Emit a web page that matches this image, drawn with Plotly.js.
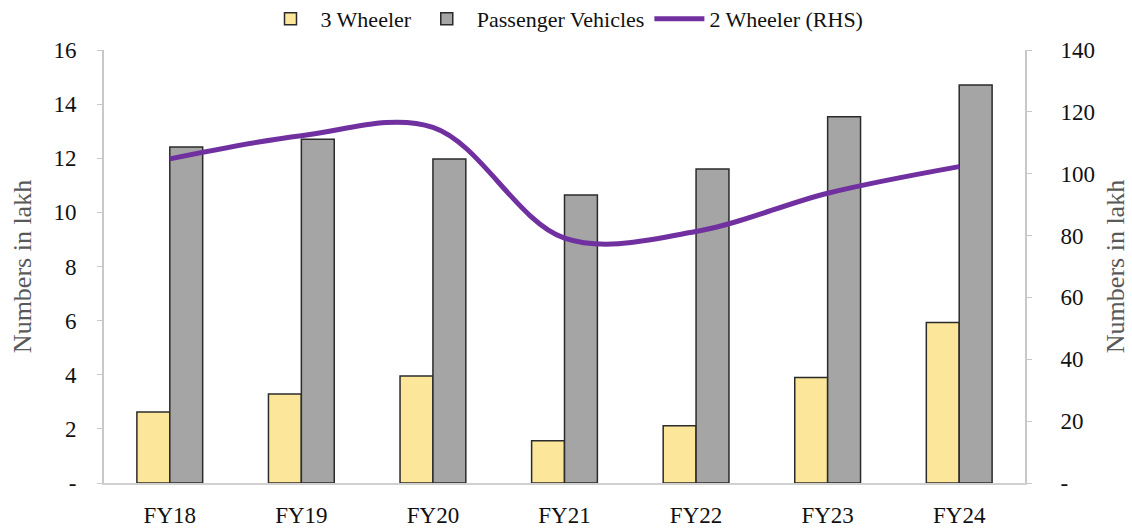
<!DOCTYPE html>
<html>
<head>
<meta charset="utf-8">
<script src="https://cdn.plot.ly/plotly-3.0.1.min.js"></script>
<style>html,body{margin:0;padding:0;background:#fff;}#chart{width:1132px;height:532px;}</style>
</head>
<body>
<div id="chart"></div>
<script>
const categories = ["FY18","FY19","FY20","FY21","FY22","FY23","FY24"];
const threeWheeler = [2.62, 3.29, 3.95, 1.56, 2.12, 3.90, 5.93];
const passengerVehicles = [12.42, 12.70, 11.97, 10.64, 11.60, 13.53, 14.71];
const twoWheeler = [104.8, 112.3, 115.0, 79.2, 81.3, 93.7, 102.3];
const leftTickVals = [0,2,4,6,8,10,12,14,16];
const leftTickText = ["-","2","4","6","8","10","12","14","16"];
const rightTickVals = [0,20,40,60,80,100,120,140];
const rightTickText = ["-","20","40","60","80","100","120","140"];

const font = "Liberation Serif";
const traces = [
  {type:"bar", name:"3 Wheeler", x:categories, y:threeWheeler,
   marker:{color:"#FCE699", line:{color:"#2b2b2b", width:1.5}}},
  {type:"bar", name:"Passenger Vehicles", x:categories, y:passengerVehicles,
   marker:{color:"#A5A5A5", line:{color:"#2b2b2b", width:1.5}}},
  {type:"scatter", mode:"lines", name:"2 Wheeler (RHS)", x:categories, y:twoWheeler, yaxis:"y2",
   line:{color:"#7030A0", width:5, shape:"spline", smoothing:1}}
];
const layout = {
  width:1132, height:532,
  margin:{l:104, r:107, t:50, b:49},
  paper_bgcolor:"#fff", plot_bgcolor:"#fff",
  font:{family:font, size:22, color:"#111"},
  barmode:"group", bargap:0.5, bargroupgap:0,
  showlegend:true,
  legend:{orientation:"h", x:0.5, xanchor:"center", y:0.925, yanchor:"bottom", yref:"container",
          font:{family:font, size:22, color:"#111"}, traceorder:"normal", itemwidth:50},
  xaxis:{type:"category", showline:true, linecolor:"#d0d0d0", linewidth:2,
         ticks:"", showgrid:false, zeroline:false, ticklabelstandoff:10,
         tickfont:{family:font, size:23, color:"#111"}},
  yaxis:{range:[0,16], tickvals:leftTickVals, ticktext:leftTickText, showgrid:false, zeroline:false,
         showline:true, linecolor:"#c8c8c8", linewidth:2, ticks:"outside", ticklen:5, tickcolor:"#c8c8c8",
         ticklabelstandoff:16,
         tickfont:{family:font, size:23, color:"#111"},
         title:{text:"Numbers in lakh", font:{family:font, size:26, color:"#595959"}, standoff:14}},
  yaxis2:{range:[0,140], overlaying:"y", side:"right", tickvals:rightTickVals, ticktext:rightTickText,
          showgrid:false, zeroline:false, showline:true, linecolor:"#c8c8c8", linewidth:2,
          ticks:"outside", ticklen:5, tickcolor:"#c8c8c8", ticklabelstandoff:24,
          tickfont:{family:font, size:23, color:"#111"},
          title:{text:"Numbers in lakh", font:{family:font, size:26, color:"#595959"}, standoff:12}}
};
Plotly.newPlot("chart", traces, layout, {displayModeBar:false, staticPlot:true});
</script>
</body>
</html>
